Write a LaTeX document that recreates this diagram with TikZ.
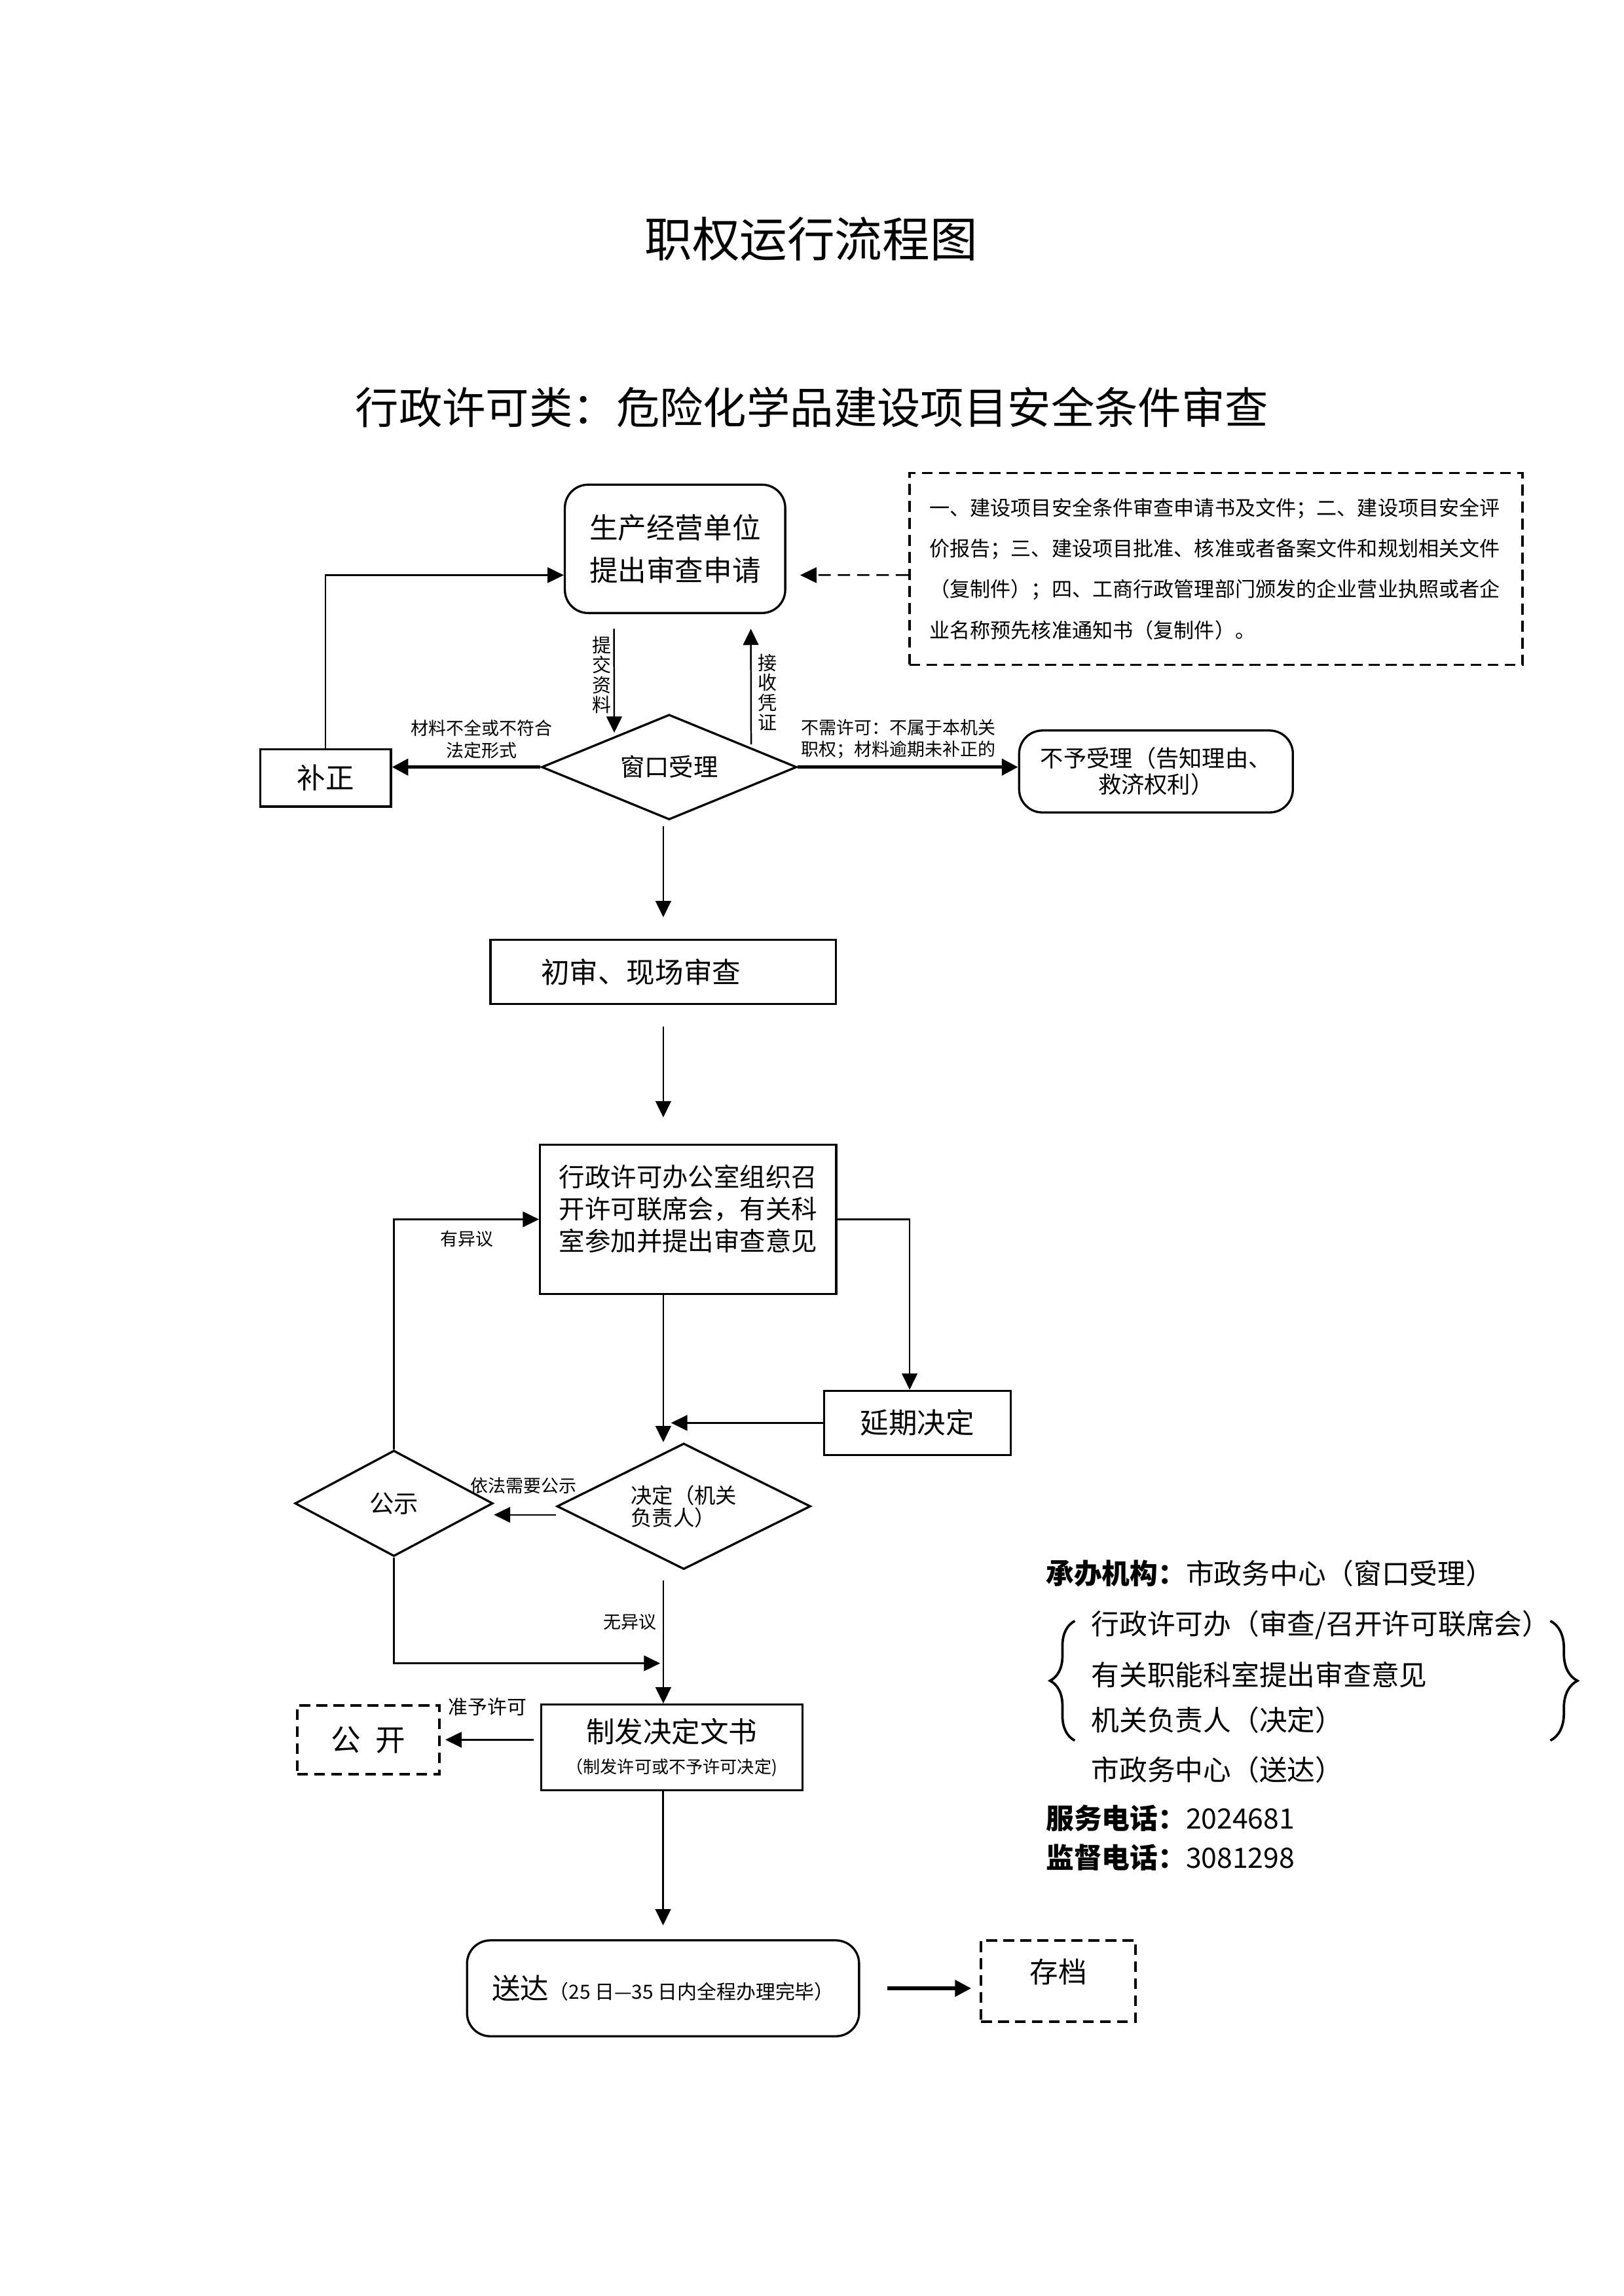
\documentclass[tikz,border=0pt]{standalone}
\usepackage{fontspec}
\setmainfont{Noto Sans CJK SC}
\usetikzlibrary{calc,arrows.meta,shapes.geometric,decorations.pathreplacing}
\tikzset{
	procbox/.style={draw, line width=0.8pt, inner sep=1pt, align=center, font=\fontsize{10.5}{15.5}\selectfont},
	roundbox/.style={procbox, rounded corners=0.3cm},
	dashbox/.style={draw, line width=0.9pt, dash pattern=on 1.4mm off 0.8mm, inner sep=1pt, align=center, font=\fontsize{10.5}{13}\selectfont},
	choice/.style={diamond, draw, line width=0.8pt, inner sep=0pt, aspect=2, align=center},
	tag/.style={inner sep=0pt, align=center, font=\fontsize{6.5}{8}\selectfont},
	flow/.style={line width=0.6pt, -{Triangle[length=2.1mm,width=2mm]}},
	bigflow/.style={line width=1.3pt, -{Triangle[length=2.1mm,width=2.1mm]}},
	infoline/.style={anchor=west, inner sep=0pt, font=\fontsize{10.3}{12}\selectfont}
}

\begin{document}
\begin{tikzpicture}
		%%%%% START %%%%%
		\useasboundingbox (0,0) rectangle (21,29.7);
		
		\node[font=\fontsize{17.5}{20}\selectfont] (head) at (10.49, 26.61) {职权运行流程图};
		\node[font=\fontsize{16}{19}\selectfont] (subhead) at (10.50, 24.43) {行政许可类：危险化学品建设项目安全条件审查};
		
		\node[roundbox, minimum width=2.85cm, minimum height=1.66cm] (apply) at (8.73, 22.60) {生产经营单位\\提出审查申请};
		\node[dashbox, minimum width=7.93cm, minimum height=2.48cm, align=left, inner xsep=0.26cm, text width=7.41cm, font=\fontsize{7.5}{15}\selectfont] (materials) at (15.725, 22.34) {一、建设项目安全条件审查申请书及文件；二、建设项目安全评\\价报告；三、建设项目批准、核准或者备案文件和规划相关文件\\（复制件）；四、工商行政管理部门颁发的企业营业执照或者企\\业名称预先核准通知书（复制件）。};
		
		\node[choice, minimum width=3.30cm, minimum height=1.36cm, font=\fontsize{9}{11}\selectfont] (window) at (8.654, 19.777) {窗口受理};
		\node[procbox, minimum width=1.69cm, minimum height=0.74cm] (fix) at (4.21, 19.636) {补正};
		\node[roundbox, minimum width=3.54cm, minimum height=1.06cm, font=\fontsize{8.5}{9.7}\selectfont] (refuse) at (14.95, 19.72) {不予受理（告知理由、\\救济权利）};
		
		\node[tag, font=\fontsize{7}{7.3}\selectfont] (lblsubmit) at (7.783, 20.97) {提\\交\\资\\料};
		\node[tag, font=\fontsize{7}{7.3}\selectfont] (lblreceipt) at (9.923, 20.743) {接\\收\\凭\\证};
		\node[tag] (lblincomplete) at (6.23, 20.137) {材料不全或不符合\\法定形式};
		\node[tag, align=left, anchor=west] (lblnoneed) at (10.358, 20.137) {不需许可：不属于本机关\\职权；材料逾期未补正的};
		
		\node[procbox, minimum width=4.47cm, minimum height=0.83cm] (review) at (8.578, 17.126) {初审、现场审查\hspace*{0.58cm}};
		\node[procbox, minimum width=3.83cm, minimum height=1.93cm, font=\fontsize{9.5}{11.8}\selectfont] (meeting) at (8.90, 13.927) {行政许可办公室组织召\\开许可联席会，有关科\\室参加并提出审查意见\\[-0.12cm]\mbox{}};
		\node[procbox, minimum width=2.41cm, minimum height=0.83cm] (delay) at (11.864, 11.294) {延期决定};
		
		\node[choice, minimum width=3.28cm, minimum height=1.63cm, align=left, font=\fontsize{7.8}{8.2}\selectfont] (decide) at (8.843, 10.215) {决定（机关\\负责人）};
		\node[choice, minimum width=2.56cm, minimum height=1.37cm, font=\fontsize{9}{11}\selectfont] (publicity) at (5.094, 10.253) {公示};
		\node[tag] (lblpublic) at (6.77, 10.48) {依法需要公示};
		\node[tag] (lblobject) at (6.04, 13.67) {有异议};
		\node[tag] (lblnoobj) at (8.145, 8.72) {无异议};
		
		\node[procbox, minimum width=3.38cm, minimum height=1.11cm, font=\fontsize{10.5}{11.3}\selectfont] (issue) at (8.687, 7.095) {制发决定文书\\{\fontsize{6.3}{7}\selectfont （制发许可或不予许可决定)}};
		\node[dashbox, minimum width=1.84cm, minimum height=0.89cm, font=\fontsize{11}{13}\selectfont] (open) at (4.763, 7.195) {公\hspace{0.5em}开};
		\node[tag, font=\fontsize{7.2}{8}\selectfont] (lblgrant) at (6.306, 7.62) {准予许可};
		
		\node[roundbox, minimum width=5.07cm, minimum height=1.24cm] (deliver) at (8.575, 3.98) {送达{\fontsize{7.2}{9}\selectfont （25 日—35 日内全程办理完毕）}};
		\node[dashbox, minimum width=2.0cm, minimum height=1.05cm, text depth=0.27cm] (archive) at (13.686, 4.075) {存档};
		
		% connectors
		\draw[flow, shorten >=0.18cm, dash pattern=on 1.6mm off 0.9mm] ([yshift=-0.08cm]materials.west) -- ([yshift=-0.34cm]apply.east);
		\draw[flow] (fix.north) |- ([yshift=-0.34cm]apply.west);
		\draw[flow] ([shift={(-0.79,-0.19)}]apply.south) -- ([shift={(-0.71,-0.25)}]window.north);
		\draw[flow] ([shift={(1.06,-0.40)}]window.north) -- ([shift={(0.98,-0.19)}]apply.south);
		\draw[bigflow] (window.west) -- (window.west -| fix.east);
		\draw[bigflow] (window.east) -- (window.east -| refuse.west);
		
		\draw[flow, shorten <=0.07cm, shorten >=0.28cm] (window.south -| review.north) -- (review.north);
		\draw[flow, shorten <=0.28cm, shorten >=0.34cm] (review.south) -- (review.south |- meeting.north);
		\draw[flow] (meeting.east) -| ([xshift=-0.1cm]delay.north);
		\draw[flow, shorten >=0.1cm] (delay.west) -- (delay.west -| review.south);
		\draw[flow] (meeting.south -| review.south) -- (decide.north -| review.south);
		\draw[flow] ([yshift=-0.11cm]decide.west) -- ([yshift=-0.11cm]decide.west -| publicity.east);
		\draw[flow] (publicity.north) |- (meeting.west);
		\draw[flow, shorten >=0.04cm] (publicity.south) |- ($(issue.north -| review.south)+(0,0.52)$);
		\draw[flow, shorten <=0.13cm] (decide.south -| review.south) -- (issue.north -| review.south);
		\draw[flow, shorten <=0.085cm, shorten >=0.06cm] (issue.west |- open.east) -- (open.east);
		\draw[flow, shorten >=0.18cm] (issue.south -| deliver.north) -- (deliver.north);
		\draw[bigflow, shorten <=0.35cm, shorten >=0.11cm] (deliver.east) -- (deliver.east -| archive.west);
		
		% offices and phones
		\node[infoline] (org) at (13.52, 9.344) {\textbf{承办机构：}市政务中心（窗口受理）};
		\node[infoline] (duty1) at (14.107, 8.681) {行政许可办（审查/召开许可联席会）};
		\node[infoline] (duty2) at (14.107, 8.037) {有关职能科室提出审查意见};
		\node[infoline] (duty3) at (14.107, 7.450) {机关负责人（决定）};
		\node[infoline] (duty4) at (14.107, 6.806) {市政务中心（送达）};
		\node[infoline] (phone1) at (13.52, 6.181) {\textbf{服务电话：}2024681};
		\node[infoline] (phone2) at (13.52, 5.670) {\textbf{监督电话：}3081298};
		\draw[line width=0.9pt, decorate, decoration={brace, amplitude=0.32cm}] (13.90, 7.185) -- (13.90, 8.732);
		\draw[line width=0.9pt, decorate, decoration={brace, amplitude=0.35cm}] (20.05, 8.732) -- (20.05, 7.185);
		%%%%% END %%%%%
\end{tikzpicture}
\end{document}
